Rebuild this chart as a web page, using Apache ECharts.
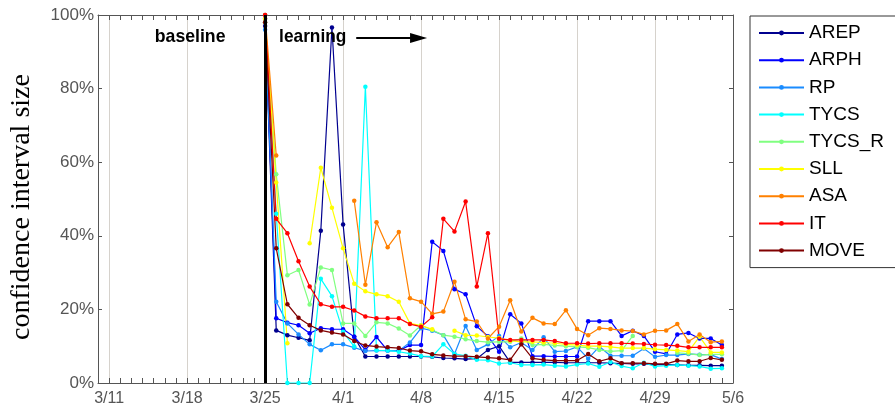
<!DOCTYPE html>
<html>
<head>
<meta charset="utf-8">
<script src="https://cdn.jsdelivr.net/npm/echarts@6/dist/echarts.min.js"></script>
<style>
html,body{margin:0;padding:0;background:#fff;}
#chart{width:895px;height:407px;}
</style>
</head>
<body>
<div id="chart"></div>
<script>
// ---- categories (one per day) ----
const dates = ['3/10','3/11','3/12','3/13','3/14','3/15','3/16','3/17','3/18','3/19','3/20','3/21','3/22','3/23','3/24',
  '3/25','3/26','3/27','3/28','3/29','3/30','3/31',
  '4/1','4/2','4/3','4/4','4/5','4/6','4/7','4/8','4/9','4/10','4/11','4/12','4/13','4/14','4/15','4/16','4/17','4/18','4/19','4/20',
  '4/21','4/22','4/23','4/24','4/25','4/26','4/27','4/28','4/29','4/30','5/1','5/2','5/3','5/4','5/5','5/6'];
const startDate = '3/25';      // first day with data
const splitDate = '3/25';      // baseline / learning boundary
const yTicks = [0, 20, 40, 60, 80, 100];

// ---- series values (%), daily from 3/25 to 5/5; null = no value ----
const AREP   = [97,14.3,13.0,12.3,11.6,41.4,96.6,43.1,12.6,7.2,7.2,7.2,7.2,7.2,7.2,7.1,6.8,6.7,6.5,6.6,9.0,10.0,5.6,5.6,5.6,5.6,5.6,5.5,5.5,5.5,5.5,5.4,5.3,5.2,5.2,5.0,5.0,4.9,4.8,4.8,4.7,4.7];
const ARPH   = [99,17.6,16.4,15.7,13.5,14.9,14.6,14.6,12.6,9.0,12.5,8.8,8.8,10.3,10.3,38.4,35.9,25.5,24.1,15.4,12.7,8.5,18.7,16.2,7.3,7.3,7.2,7.2,7.2,16.8,16.8,16.8,12.8,14.2,12.8,8.5,7.9,13.2,13.6,12.1,12.1,10.3];
const RP     = [96,22.1,16.2,13.2,10.5,8.9,10.5,10.5,9.6,8.7,8.8,8.8,8.8,11.0,14.9,14.2,13.0,7.9,15.5,9.0,10.5,12.8,9.7,11.0,9.0,12.4,8.5,8.7,9.8,6.6,9.9,7.4,7.4,7.4,9.4,7.1,7.6,7.6,7.9,7.7,7.7,6.5];
const TYCS   = [100,46,0,0,0,28.3,23.6,13.9,9.9,80.5,8.9,8.8,8.5,8.0,7.3,7.2,10.5,7.9,7.4,6.3,6.2,5.3,5.5,4.9,4.9,5.0,4.7,4.5,5.0,5.3,4.4,5.7,4.6,4.0,5.5,4.5,4.7,4.9,4.7,4.5,3.9,4.0];
const TYCS_R = [98,56.7,29.3,30.7,21.3,31.4,30.7,16.2,16.2,12.8,16.5,16.2,14.8,12.9,15.7,14.4,13.0,12.6,11.9,11.4,11.1,11.2,11.2,12.1,10.3,10.5,10.2,10.0,9.8,9.6,9.0,8.6,8.8,12.8,null,null,null,8.2,8.0,7.6,7.8,7.8];
const SLL    = [99,54.5,10.8,null,38.0,58.5,47.6,36.6,27.0,24.9,24.1,23.6,22.1,16.2,15.6,14.6,null,14.2,13.0,12.9,12.5,12.2,11.5,11.2,11.2,11.0,10.8,10.5,10.3,10.0,10.0,9.8,9.5,9.5,9.5,9.2,9.0,8.8,8.5,12.6,8.3,8.3];
const ASA    = [100,61.8,null,null,null,null,null,null,49.5,26.7,43.7,36.9,41.0,23.0,22.1,18.8,19.4,27.5,17.3,16.7,12.1,15.3,22.5,14.0,17.7,16.2,16.0,19.8,14.7,13.0,14.9,14.7,14.3,14.1,13.2,14.2,14.3,16.0,11.3,13.2,11.1,11.3];
const IT     = [100,44.6,40.7,33.1,26.2,21.4,20.7,20.7,19.7,18.1,17.6,17.6,17.6,16.0,15.3,17.9,44.6,41.2,49.3,26.2,40.7,12.0,11.7,11.7,11.7,11.7,11.4,10.8,10.8,10.7,10.8,10.8,10.8,10.7,10.6,10.4,10.3,10.1,9.7,9.7,9.7,9.7];
const MOVE   = [98,36.6,21.4,17.7,15.7,14.3,13.7,13.2,11.4,10.2,9.9,9.7,9.5,8.8,8.6,7.8,7.5,7.3,7.3,7.1,6.9,6.7,6.3,10.5,6.7,6.3,6.1,6.1,6.1,7.9,5.9,6.7,5.4,5.4,5.4,5.2,5.2,6.1,5.9,5.9,6.8,6.3];

const seriesNames = ['AREP','ARPH','RP','TYCS','TYCS_R','SLL','ASA','IT','MOVE'];
const seriesValues = [AREP, ARPH, RP, TYCS, TYCS_R, SLL, ASA, IT, MOVE];
const seriesColors = ['#00008f','#0000ff','#1a8cff','#00ffff','#80ff80','#ffff00','#ff8000','#ff0000','#800000'];

const startIdx = dates.indexOf(startDate);
function pad(arr){
  return dates.map((d, i) => {
    const j = i - startIdx;
    return (j >= 0 && j < arr.length) ? arr[j] : null;
  });
}

const chart = echarts.init(document.getElementById('chart'), null, {renderer: 'canvas'});
const axisColor = '#555';
const weekly = (i) => i % 7 === 1;

const series = seriesNames.map((n, i) => ({
  name: n,
  type: 'line',
  data: pad(seriesValues[i]),
  xAxisIndex: 0, yAxisIndex: 0,
  symbol: 'circle',
  symbolSize: 4.5,
  showSymbol: true,
  connectNulls: false,
  itemStyle: {color: seriesColors[i]},
  lineStyle: {color: seriesColors[i], width: 1.2},
  emphasis: {disabled: true},
  animation: false
}));
series.push({
  name: 'split',
  type: 'line',
  data: [],
  xAxisIndex: 0, yAxisIndex: 0,
  silent: true,
  animation: false,
  markLine: {
    silent: true,
    symbol: ['none','none'],
    label: {show: false},
    lineStyle: {color: '#000', width: 3, type: 'solid'},
    data: [{xAxis: splitDate}],
    animation: false
  }
});

const option = {
  backgroundColor: '#fff',
  animation: false,
  grid: {left: 97, right: 162, top: 15, bottom: 24, containLabel: false},
  legend: {
    data: seriesNames,
    orient: 'vertical',
    left: 750, top: 16,
    padding: [7, 30, 7, 8],
    itemWidth: 45, itemHeight: 6,
    itemGap: 7.2,
    borderColor: '#333', borderWidth: 1,
    backgroundColor: '#fff',
    textStyle: {fontSize: 19, color: '#000', fontFamily: 'Liberation Sans, Arial, sans-serif', lineHeight: 20}
  },
  xAxis: [{
    type: 'category', data: dates, boundaryGap: false, position: 'bottom',
    axisLine: {show: true, onZero: false, lineStyle: {color: axisColor, width: 1}},
    axisTick: {show: true, interval: 0, inside: true, length: 5, lineStyle: {color: axisColor}},
    axisLabel: {show: true, interval: weekly, color: axisColor, fontSize: 16, margin: 8, fontFamily: 'Liberation Sans, Arial, sans-serif'},
    splitLine: {show: true, interval: weekly, lineStyle: {color: '#d6d2cc', width: 1}}
  }, {
    type: 'category', data: dates, boundaryGap: false, position: 'top',
    axisLine: {show: true, onZero: false, lineStyle: {color: axisColor, width: 1}},
    axisTick: {show: true, interval: 0, inside: true, length: 5, lineStyle: {color: axisColor}},
    axisLabel: {show: false},
    splitLine: {show: false}
  }],
  yAxis: [{
    type: 'value', min: yTicks[0], max: yTicks[yTicks.length-1], interval: yTicks[1]-yTicks[0], position: 'left',
    name: 'confidence interval size', nameLocation: 'middle', nameGap: 62,
    nameTextStyle: {fontFamily: 'Liberation Serif, Times New Roman, serif', fontSize: 28, color: '#000', padding: [0, 16, 0, 0]},
    axisLine: {show: true, onZero: false, lineStyle: {color: axisColor, width: 1}},
    axisTick: {show: true, inside: true, length: 4, lineStyle: {color: axisColor}},
    axisLabel: {show: true, formatter: '{value}%', color: axisColor, fontSize: 17, margin: 4, fontFamily: 'Liberation Sans, Arial, sans-serif'},
    splitLine: {show: false}
  }, {
    type: 'value', min: yTicks[0], max: yTicks[yTicks.length-1], interval: yTicks[1]-yTicks[0], position: 'right',
    axisLine: {show: true, onZero: false, lineStyle: {color: axisColor, width: 1}},
    axisTick: {show: true, inside: true, length: 4, lineStyle: {color: axisColor}},
    axisLabel: {show: false},
    splitLine: {show: false}
  }],
  series: series
};
chart.setOption(option);

// annotations positioned through the axes
const px = (d) => chart.convertToPixel({xAxisIndex: 0}, d);
const py = (v) => chart.convertToPixel({yAxisIndex: 0}, v);
const yText = py(94);
const xBase = px('3/18');
const xLearn = px(splitDate);
const xArrowStart = px('4/2');
const xArrowEnd = px('4/8');
const annoFont = 'bold 19px "Liberation Sans Narrow", "Liberation Sans", Arial, sans-serif';
chart.setOption({
  graphic: [
    {type: 'text', x: xBase + 3, y: yText, scaleX: 0.93, style: {text: 'baseline', font: annoFont, fill: '#000', align: 'center', verticalAlign: 'middle'}, z: 100},
    {type: 'text', x: xLearn + 14, y: yText, scaleX: 0.91, style: {text: 'learning', font: annoFont, fill: '#000', align: 'left', verticalAlign: 'middle'}, z: 100},
    {type: 'line', shape: {x1: xArrowStart + 2, y1: yText + 1, x2: xArrowEnd - 10, y2: yText + 1}, style: {stroke: '#000', lineWidth: 2}, z: 100},
    {type: 'polygon', shape: {points: [[xArrowEnd + 6, yText + 1], [xArrowEnd - 11, yText - 4], [xArrowEnd - 11, yText + 6]]}, style: {fill: '#000'}, z: 100}
  ]
});
</script>
</body>
</html>
